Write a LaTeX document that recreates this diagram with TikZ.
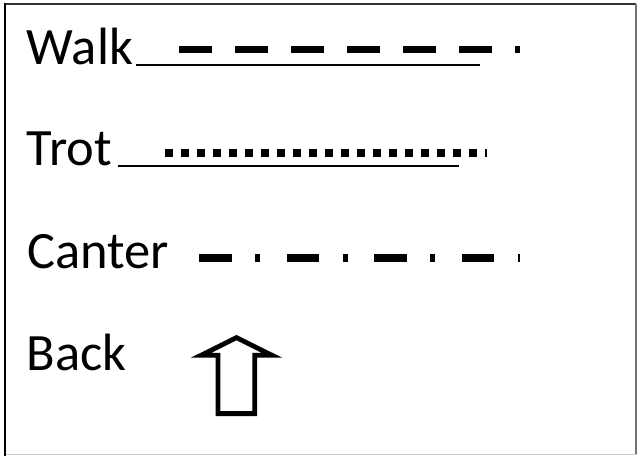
\documentclass[tikz,border=0pt]{standalone}
\usepackage{fontspec}
\setmainfont{Carlito}
\begin{document}
\begin{tikzpicture}[x=1pt,y=-1pt,
  lbl/.style={anchor=base west,inner sep=0pt,outer sep=0pt,font=\fontsize{52.5}{60}\selectfont},
  uline/.style={line width=2pt,black},
  gait/.style={line width=7.6pt,black,line cap=butt},
  frameline/.style={line width=2pt}]
\useasboundingbox (0,0) rectangle (637,456);
\fill[white] (0,0) rectangle (637,456);
% frame
\draw[frameline,black!80] (4,4.3) -- (636,4.3);
\draw[frameline,black!55] (635.8,4) -- (635.8,455);
\draw[line width=1.5pt,black!20] (5,454.6) -- (637,454.6);
\draw[frameline,black] (5,3.3) -- (5,456);
% labels
\node[lbl] (walk) at (27,64.3) {Walk};
\node[lbl] (trot) at (27,165) {Trot};
\node[lbl] (canter) at (27.5,268) {Canter};
\node[lbl] (back) at (27,370) {Back};
% walk
\coordinate (wu1) at (136,64.5);
\coordinate (wu2) at (480,64.5);
\draw[uline] (wu1) -- (wu2);
\coordinate (wd1) at (179,49.5);
\coordinate (wd2) at (520,49.5);
\draw[gait,dash pattern=on 32.5pt off 23.5pt] (wd1) -- (wd2);
% trot
\coordinate (tu1) at (118,165.5);
\coordinate (tu2) at (459,165.5);
\draw[uline] (tu1) -- (tu2);
\coordinate (td1) at (165,153);
\coordinate (td2) at (487,153);
\draw[gait,line width=7.4pt,dash pattern=on 7.5pt off 8.5pt] (td1) -- (td2);
% canter
\coordinate (cd1) at (199,258);
\coordinate (cd2) at (519.5,258);
\draw[gait,line width=8.6pt,dash pattern=on 32.5pt off 23.5pt on 5pt off 26.5pt] (cd1) -- (cd2);
% back arrow
\draw[line width=4.8pt,line join=miter,black]
  (236.5,337.6) -- (201,355.3) -- (218,355.3) -- (218,413.6) -- (254.8,413.6)
  -- (254.8,355.3) -- (272,355.3) -- cycle;
\end{tikzpicture}
\end{document}
